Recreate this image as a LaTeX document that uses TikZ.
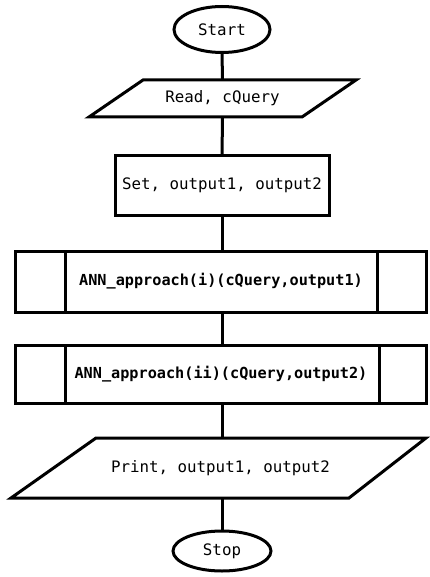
\documentclass[tikz,border=0pt]{standalone}
\usepackage{fontspec}
\setmonofont{DejaVu Sans Mono}
\usetikzlibrary{shapes.geometric}
\begin{document}
\begin{tikzpicture}[x=1pt,y=-1pt,
  shapeline/.style={line width=3pt,line join=miter},
  term/.style={ellipse,draw,shapeline,inner sep=0pt,outer sep=0pt},
  plainbox/.style={rectangle,inner sep=0pt,outer sep=0pt},
  procbox/.style={rectangle,draw,shapeline,inner sep=0pt,outer sep=0pt},
  txt/.style={font=\ttfamily\fontsize{15.8}{18}\selectfont},
  btxt/.style={font=\ttfamily\bfseries\fontsize{15.2}{18}\selectfont},
  conn/.style={line width=3pt}]
\useasboundingbox (0,0) rectangle (430,577);
% nodes
\node[term,txt,minimum width=96pt,minimum height=46pt] (start) at (222,29.5) {Start};
\node[plainbox,txt,minimum width=160pt,minimum height=37pt] (read) at (222.5,98.5) {Read, cQuery};
\node[procbox,txt,minimum width=214pt,minimum height=59pt] (set) at (222,185.5) {Set, output1, output2};
\node[procbox,btxt,minimum width=411pt,minimum height=61pt] (ann1) at (221,281.5) {ANN\_approach(i)(cQuery,output1)};
\node[procbox,btxt,minimum width=411pt,minimum height=58pt] (ann2) at (221,374) {ANN\_approach(ii)(cQuery,output2)};
\node[plainbox,txt,minimum width=250pt,minimum height=60pt] (print) at (220.5,468) {Print, output1, output2};
\node[term,txt,minimum width=98pt,minimum height=40pt] (stop) at (222,551) {Stop};
% parallelograms
\draw[shapeline] (143,80) -- (356,80) -- (302,117) -- (89,117) -- cycle;
\draw[shapeline] (96,438) -- (426,438) -- (349,498) -- (11,498) -- cycle;
% inner lines of predefined process boxes
\draw[shapeline] (65,250) -- (65,313);
\draw[shapeline] (377,250) -- (377,313);
\draw[shapeline] (65,344) -- (65,404);
\draw[shapeline] (379,344) -- (379,404);
% connectors
\draw[conn] (start.south) -- (read.north);
\draw[conn] (read.south) -- (set.north);
\draw[conn] (set.south) -- (set.south |- ann1.north);
\draw[conn] (set.south |- ann1.south) -- (set.south |- ann2.north);
\draw[conn] (set.south |- ann2.south) -- (set.south |- print.north);
\draw[conn] (set.south |- print.south) -- (stop.north);
\end{tikzpicture}
\end{document}
